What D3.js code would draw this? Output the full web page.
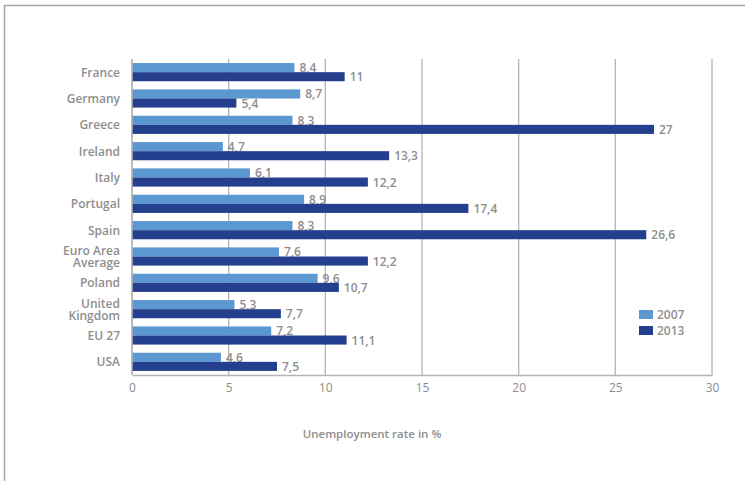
<!DOCTYPE html>
<html><head><meta charset="utf-8">
<script src="https://cdn.jsdelivr.net/npm/d3@7"></script>
<style>
html,body{margin:0;padding:0;background:#fff;}
svg{display:block;font-family:"Open Sans","Noto Sans",sans-serif;}
</style></head>
<body>
<svg id="chart" width="745" height="481"></svg>
<script>
const categories = [["France"],["Germany"],["Greece"],["Ireland"],["Italy"],["Portugal"],["Spain"],["Euro Area","Average"],["Poland"],["United","Kingdom"],["EU 27"],["USA"]];
const values2007 = [8.4,8.7,8.3,4.7,6.1,8.9,8.3,7.6,9.6,5.3,7.2,4.6];
const values2013 = [11,5.4,27,13.3,12.2,17.4,26.6,12.2,10.7,7.7,11.1,7.5];
const seriesNames = ["2007","2013"];
const xTicks = [0,5,10,15,20,25,30];
const axisTitle = "Unemployment rate in %";

const colors = ["#5b97d0","#243f8d"];
const textGray = "#8e8e8e";
const svg = d3.select("#chart");

// frame
svg.append("path").attr("d","M4.5,481 L4.5,5.5 L745,5.5").attr("fill","none").attr("stroke","#a8a8a8").attr("stroke-width",1.5);

const m = {left:132, right:712, top:59, bottom:375};
const x = d3.scaleLinear().domain([0,30]).range([m.left,m.right]);
const keys = categories.map((c,i)=>i);
const y = d3.scaleBand().domain(keys).range([m.top,m.bottom]).paddingInner(0.31).paddingOuter(0.155);
const sub = d3.scaleBand().domain([0,1]).range([0,y.bandwidth()]);

// gridlines
const g = svg.append("g");
g.selectAll("line.grid").data(xTicks).join("line")
  .attr("x1",d=>x(d)).attr("x2",d=>x(d)).attr("y1",m.top).attr("y2",m.bottom)
  .attr("stroke","#b4b4b4").attr("stroke-width",1.3);

// bottom axis
const ax = svg.append("g").attr("transform",`translate(0,${m.bottom})`)
  .call(d3.axisBottom(x).tickValues(xTicks).tickSize(0).tickPadding(8));
ax.select(".domain").attr("stroke","#b4b4b4").attr("stroke-width",1.5);
ax.selectAll("text").attr("fill",textGray).attr("font-size",12).attr("font-family","'Open Sans',sans-serif");

const series = [values2007, values2013];
const fmt = v => String(v).replace(".",",");
series.forEach((vals,s)=>{
  svg.append("g").selectAll("rect").data(vals).join("rect")
    .attr("x",x(0)).attr("y",(d,i)=>y(i)+sub(s))
    .attr("width",d=>x(d)-x(0)).attr("height",sub.bandwidth())
    .attr("fill",colors[s]);
  svg.append("g").selectAll("text").data(vals).join("text")
    .attr("x",d=>x(d)+5).attr("y",(d,i)=>y(i)+sub(s)+sub.bandwidth()/2+4.5)
    .attr("fill",textGray).attr("font-size",12).attr("font-weight",600)
    .text(d=>fmt(d));
});

// left line
svg.append("line").attr("x1",m.left).attr("x2",m.left).attr("y1",m.top).attr("y2",m.bottom)
  .attr("stroke","#b4b4b4").attr("stroke-width",1.5);

// category labels
const lineGap = 12;
const cl = svg.append("g").selectAll("text").data(categories).join("text")
  .attr("text-anchor","end").attr("fill",textGray).attr("font-size",12).attr("font-weight",600)
  .attr("x",120)
  .attr("y",(d,i)=>y(i)+y.bandwidth()/2 + 4.5 - (d.length-1)*lineGap/2);
cl.selectAll("tspan").data(d=>d).join("tspan")
  .attr("x",120).attr("dy",(d,j)=>j===0?0:lineGap).text(d=>d);

// legend
const lg = svg.append("g");
seriesNames.forEach((n,i)=>{
  lg.append("rect").attr("x",639).attr("y",310+i*16).attr("width",14).attr("height",9).attr("fill",colors[i]);
  lg.append("text").attr("x",657).attr("y",319+i*16).attr("fill",textGray).attr("font-size",12).attr("font-weight",600).text(n);
});

// axis title
svg.append("text").attr("x",372).attr("y",438).attr("text-anchor","middle")
  .attr("fill",textGray).attr("font-size",11.5).attr("font-weight",600).text(axisTitle);
</script>
</body></html>
